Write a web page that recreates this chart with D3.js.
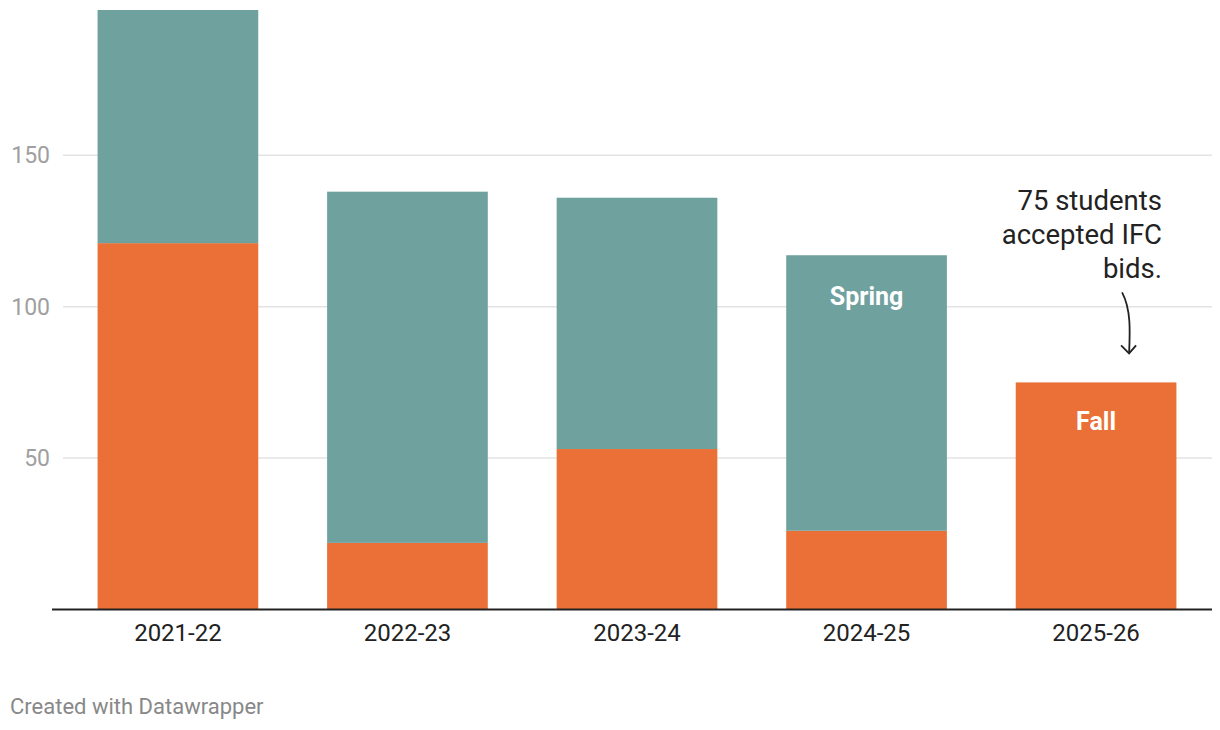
<!DOCTYPE html>
<html>
<head>
<meta charset="utf-8">
<script src="https://cdn.jsdelivr.net/npm/d3@7"></script>
<style>
  html, body { margin: 0; padding: 0; background: #fff; }
  svg { display: block; font-family: Roboto, "Noto Sans", sans-serif; }
</style>
</head>
<body>
<svg id="chart" width="1220" height="730"></svg>
<script>
const years = ["2021-22", "2022-23", "2023-24", "2024-25", "2025-26"];
const fall = [121, 22, 53, 26, 75];
const spring = [77, 116, 83, 91, 0];
const yTicks = [50, 100, 150];
const seriesNames = ["Fall", "Spring"];
const annotationLines = ["75 students", "accepted IFC", "bids."];

const colors = { Fall: "#ea7037", Spring: "#6fa19f" };

const svg = d3.select("#chart");
const rows = years.map((y, i) => ({ year: y, Fall: fall[i], Spring: spring[i] }));
const stacked = d3.stack().keys(seriesNames)(rows);

const x = d3.scaleBand().domain(years).range([62, 1212]).paddingInner(0.3).paddingOuter(0.155);
const y = d3.scaleLinear().domain([0, 198]).range([609.5, 10]);

// grid
svg.append("g").selectAll("line").data(yTicks).join("line")
  .attr("x1", 63).attr("x2", 1212)
  .attr("y1", d => y(d)).attr("y2", d => y(d))
  .attr("stroke", "#e3e3e3").attr("stroke-width", 1.5);

// y tick labels
svg.append("g").selectAll("text").data(yTicks).join("text")
  .attr("x", 50).attr("y", d => y(d))
  .attr("dy", "0.35em")
  .attr("text-anchor", "end")
  .attr("font-size", 23)
  .attr("fill", "#a0a0a0")
  .text(d => d);

// bars
const layers = svg.append("g").selectAll("g").data(stacked).join("g")
  .attr("fill", d => colors[d.key]);
layers.selectAll("rect").data(d => d.filter(s => s[1] > s[0])).join("rect")
  .attr("x", d => x(d.data.year))
  .attr("width", x.bandwidth())
  .attr("y", d => y(d[1]))
  .attr("height", d => y(d[0]) - y(d[1]));

// baseline axis
const xAxis = d3.axisBottom(x).tickSize(0).tickPadding(14);
const ax = svg.append("g").attr("transform", `translate(0,${y(0)})`).call(xAxis);
ax.select(".domain").attr("d", "M52,0H1212").attr("stroke", "#222").attr("stroke-width", 2);
ax.selectAll("text").attr("font-size", 24).attr("fill", "#222")
  .attr("font-family", "Roboto, sans-serif");

// series labels inside bars
const springIdx = 3, fallIdx = 4;
svg.append("text")
  .attr("x", x(years[springIdx]) + x.bandwidth() / 2)
  .attr("y", y(fall[springIdx] + spring[springIdx]) + 50)
  .attr("text-anchor", "middle").attr("font-size", 25).attr("font-weight", 700)
  .attr("fill", "#fff").text("Spring");
svg.append("text")
  .attr("x", x(years[fallIdx]) + x.bandwidth() / 2)
  .attr("y", y(fall[fallIdx]) + 48)
  .attr("text-anchor", "middle").attr("font-size", 25).attr("font-weight", 700)
  .attr("fill", "#fff").text("Fall");

// annotation
const ann = svg.append("text")
  .attr("text-anchor", "end").attr("font-size", 27.5).attr("fill", "#222");
annotationLines.forEach((t, i) => {
  ann.append("tspan").attr("x", 1162).attr("y", 210 + i * 34).text(t);
});
const cx = x(years[fallIdx]) + x.bandwidth() / 2 + 32;
const tipY = y(fall[fallIdx]) - 29;
svg.append("path")
  .attr("d", `M${cx - 6},${tipY - 61} C${cx + 3},${tipY - 44} ${cx + 2},${tipY - 22} ${cx + 1},${tipY}`)
  .attr("fill", "none").attr("stroke", "#222").attr("stroke-width", 1.8);
svg.append("path")
  .attr("d", `M${cx - 7},${tipY - 8} L${cx + 1},${tipY} L${cx + 8},${tipY - 8}`)
  .attr("fill", "none").attr("stroke", "#222").attr("stroke-width", 1.8);

// footer
svg.append("text").attr("x", 10).attr("y", 714)
  .attr("font-size", 22).attr("fill", "#888").text("Created with Datawrapper");
</script>
</body>
</html>
